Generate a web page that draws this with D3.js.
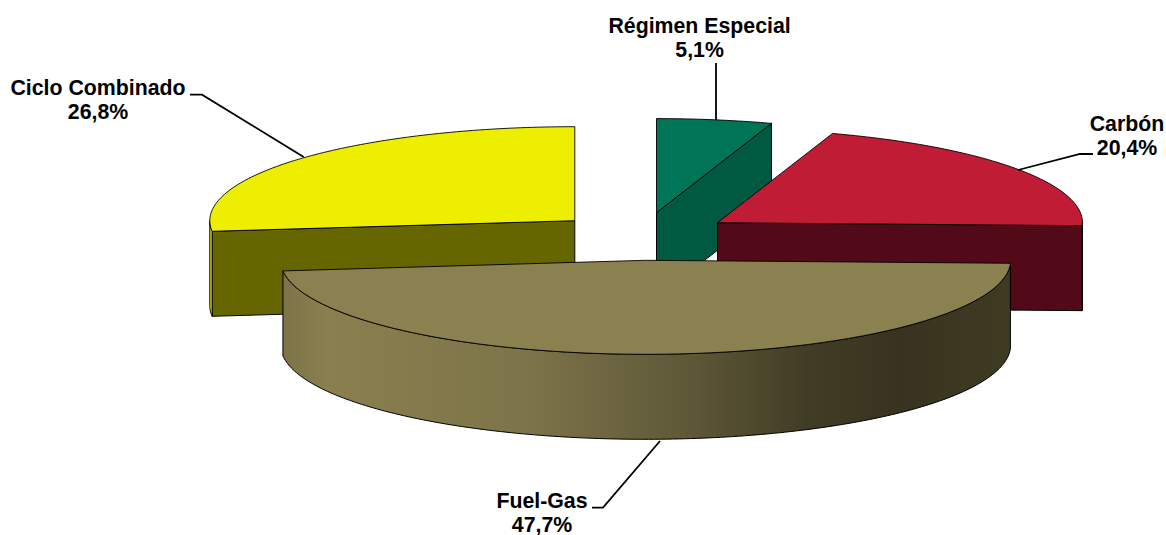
<!DOCTYPE html>
<html><head><meta charset="utf-8">
<script src="https://cdn.jsdelivr.net/npm/d3@7"></script>
<style>html,body{margin:0;padding:0;background:#fff}svg{display:block}
text{font-family:"Liberation Sans",Arial,sans-serif;font-weight:700;font-size:21.3px;fill:#000;text-anchor:middle}</style>
</head><body><svg id="c" width="1166" height="535"></svg>
<script>
// Data
const categories = ["Régimen Especial", "Carbón", "Fuel-Gas", "Ciclo Combinado"];
const values = [5.1, 20.4, 47.7, 26.8];
// Styles and layout
const topColors  = ["#007456", "#c11c36", "#8b8050", "#eeee00"];
const faceColors = ["#005a42", "#520a18", "#8b8050", "#666600"];
const rimColors  = ["#005a42", "#520a18", "url(#fuelRim)", "#eeee00"];
const apexX = [656.5, 717.5, 645.6, 574.8];
const apexY = [212.6, 222.7, 260.3, 220.7];
const drawOrder = [3, 0, 1, 2];
const labelX = [699.6, 1127, 542, 98];
const labelY = [33, 130.9, 507.8, 95.4];
const leaderPts = [
  [[716,63],[716,120]],
  [[1093,154],[1080,154],[1018,170]],
  [[592,507.7],[603,507.7],[660,441]],
  [[190,94.7],[202,94.7],[303.7,157]]
];
const rx = 365, ry = 94, depth = 85;
const lineGap = 24;

const svg = d3.select("#c");
const grad = svg.append("defs").append("linearGradient")
  .attr("id","fuelRim").attr("gradientUnits","userSpaceOnUse")
  .attr("x1",283).attr("x2",1011).attr("y1",0).attr("y2",0);
[[0,"#7c7348"],[0.06,"#8a7f4e"],[0.33,"#7d744a"],[0.555,"#5f5838"],[0.72,"#413c25"],[0.85,"#38331f"],[1,"#3f3b22"]]
  .forEach(s=>grad.append("stop").attr("offset",s[0]).attr("stop-color",s[1]));

const arcs = d3.pie().sort(null).value(d=>d)(values);
const ux = d3.scaleLinear().domain([-1,1]).range([-rx,rx]);
const uy = d3.scaleLinear().domain([-1,1]).range([ry,-ry]);
const line = d3.line();

function rimPoints(i,a0,a1,dy){
  const n = Math.max(2,Math.ceil((a1-a0)*60));
  return d3.range(n+1).map(k=>{
    const a = a0+(a1-a0)*k/n;
    return [apexX[i]+ux(Math.sin(a)), apexY[i]+uy(Math.cos(a))+dy];
  });
}
const styleShape = (s,fill,w)=>s.attr("fill",fill).attr("stroke","#000").attr("stroke-width",w).attr("stroke-linejoin","round");

drawOrder.forEach(i=>{
  const {startAngle:a0,endAngle:a1} = arcs[i];
  const g = svg.append("g");
  // cut faces that turn towards the viewer
  [[a0,-Math.PI/2],[a1,Math.PI/2]].forEach(([a,off])=>{
    if(Math.cos(a+off) < -1e-6){
      const e=[apexX[i]+ux(Math.sin(a)),apexY[i]+uy(Math.cos(a))];
      const pts=[[apexX[i],apexY[i]],e,[e[0],e[1]+depth],[apexX[i],apexY[i]+depth]];
      styleShape(g.append("path").attr("d",line(pts)+"Z"),faceColors[i],1);
    }
  });
  // outer rim, front half only
  const r0=Math.max(a0,Math.PI/2), r1=Math.min(a1,Math.PI*1.5);
  if(r1>r0){
    const pts=rimPoints(i,r0,r1,0).concat(rimPoints(i,r0,r1,depth).reverse());
    styleShape(g.append("path").attr("d",line(pts)+"Z"),rimColors[i],1);
  }
  // top
  const topPts=[[apexX[i],apexY[i]]].concat(rimPoints(i,a0,a1,0));
  styleShape(g.append("path").attr("d",line(topPts)+"Z"),topColors[i],0.9);
});

categories.forEach((c,i)=>{
  svg.append("path").attr("d",line(leaderPts[i])).attr("fill","none")
    .attr("stroke","#000").attr("stroke-width",1.8);
  svg.append("text").attr("x",labelX[i]).attr("y",labelY[i]).text(c);
  svg.append("text").attr("x",labelX[i]).attr("y",labelY[i]+lineGap)
    .text(values[i].toFixed(1).replace(".",",")+"%");
});
</script></body></html>
